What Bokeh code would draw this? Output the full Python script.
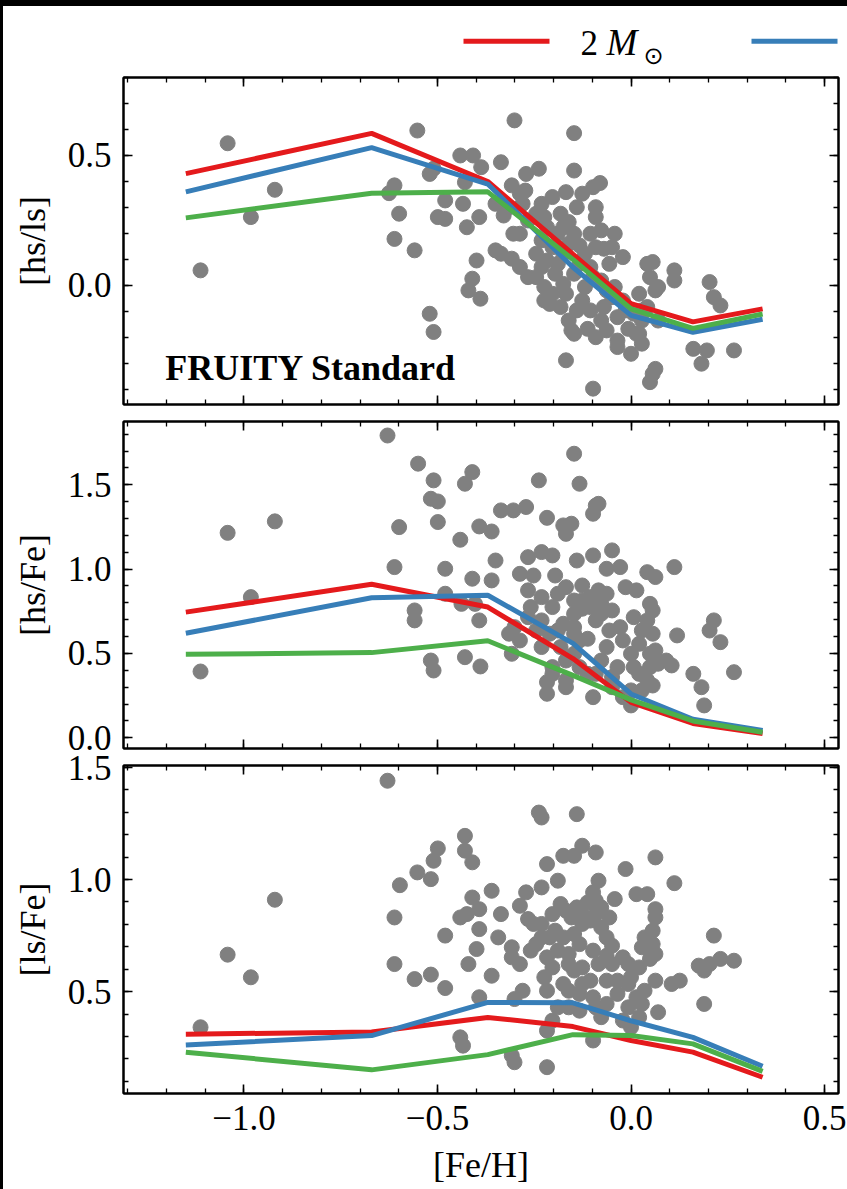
from bokeh.plotting import figure
from bokeh.layouts import column
from bokeh.models import Range1d, LinearAxis, SingleIntervalTicker, CustomJSTickFormatter, Label
from bokeh.core.properties import value
from bokeh.embed import file_html
from bokeh.resources import INLINE

# ---------------- data ----------------
feh_model = [-1.15, -0.67, -0.37, -0.15, 0.0, 0.16, 0.34]

hsls_2m = [0.43, 0.585, 0.40, 0.12, -0.07, -0.14, -0.09]
hsls_3m = [0.36, 0.53, 0.39, 0.07, -0.115, -0.18, -0.13]
hsls_4m = [0.26, 0.355, 0.36, 0.10, -0.09, -0.165, -0.11]

hsfe_2m = [0.745, 0.91, 0.775, 0.47, 0.21, 0.085, 0.025]
hsfe_3m = [0.62, 0.83, 0.845, 0.56, 0.26, 0.11, 0.043]
hsfe_4m = [0.495, 0.505, 0.575, 0.37, 0.225, 0.10, 0.033]

lsfe_2m = [0.31, 0.32, 0.385, 0.344, 0.282, 0.23, 0.118]
lsfe_3m = [0.262, 0.304, 0.452, 0.45, 0.37, 0.296, 0.167]
lsfe_4m = [0.23, 0.151, 0.219, 0.308, 0.304, 0.267, 0.144]

# observed stars, [hs/ls] panel
obs_feh_hsls = [
    -1.042, -1.112, -0.982, -0.920, -0.552, -0.611, -0.625, -0.599, -0.611, -0.559,
    -0.520, -0.510, -0.499, -0.480, -0.480, -0.520, -0.510, -0.441, -0.408, -0.387,
    -0.429, -0.434, -0.424, -0.392, -0.399, -0.410, -0.420, -0.389, -0.301, -0.336,
    -0.308, -0.271, -0.238, -0.273, -0.350, -0.329, -0.304, -0.336, -0.308, -0.287,
    -0.266, -0.224, -0.231, -0.245, -0.224, -0.210, -0.203, -0.168, -0.147, -0.147,
    -0.126, -0.098, -0.080, -0.161, -0.091, -0.189, -0.147, -0.175, -0.133, -0.091,
    -0.070, -0.042, -0.196, -0.175, -0.133, -0.105, -0.168, -0.119, -0.077, -0.161,
    -0.154, -0.112, -0.077, -0.070, -0.035, -0.035, 0.000, -0.168, -0.098, 0.056,
    0.049, 0.028, 0.042, 0.056, 0.049, 0.063, 0.021, 0.042, 0.070, 0.112,
    0.112, 0.203, 0.214, 0.231, 0.161, 0.196, 0.182, 0.266, 0.021, -0.007,
    -0.049, -0.021, -0.042, -0.245, -0.280, -0.217, -0.056, -0.203, -0.140, -0.105,
    -0.014, -0.147, -0.245, -0.350, -0.287, -0.231, -0.091, 0.007, 0.014, 0.063,
    -0.266, -0.217, -0.182, -0.140, -0.105, -0.077, -0.203, -0.161, -0.231, -0.189,
    -0.147, -0.098, -0.063, -0.224, -0.182, -0.126, -0.063, -0.091, -0.035, 0.028,
    0.070, 0.028, -0.315, -0.287, -0.175, -0.119, -0.021, -0.049]
obs_hsls = [
    0.547, 0.058, 0.263, 0.368, 0.596, 0.385, 0.355, 0.276, 0.179, 0.135,
    0.429, 0.449, 0.263, 0.256, 0.327, -0.109, -0.179, 0.500, 0.500, 0.455,
    0.397, 0.314, 0.224, 0.263, 0.096, 0.026, -0.019, -0.051, 0.635, 0.474,
    0.385, 0.429, 0.449, 0.365, 0.314, 0.269, 0.199, 0.122, 0.103, 0.071,
    0.032, 0.263, 0.173, 0.122, -0.006, -0.071, 0.340, 0.359, 0.586, 0.442,
    0.353, 0.378, 0.394, 0.244, 0.263, 0.199, 0.199, 0.122, 0.154, 0.147,
    0.141, 0.199, 0.045, 0.006, 0.083, 0.071, -0.032, -0.006, 0.019, -0.135,
    -0.173, -0.167, -0.135, -0.083, -0.212, -0.237, -0.263, -0.288, -0.397, -0.340,
    -0.372, -0.135, 0.083, 0.090, 0.032, -0.019, -0.032, -0.083, -0.006, 0.058,
    0.019, 0.013, -0.045, -0.077, -0.244, -0.250, -0.301, -0.250, -0.186, -0.167,
    -0.045, -0.058, -0.006, 0.276, 0.314, 0.096, 0.083, -0.032, -0.096, -0.096,
    -0.096, -0.186, 0.032, 0.135, 0.199, 0.314, 0.301, -0.109, -0.186, -0.321,
    0.250, 0.224, 0.276, 0.301, 0.199, 0.212, 0.147, 0.160, 0.071, 0.083,
    0.045, 0.032, -0.019, -0.058, -0.083, -0.058, -0.173, -0.199, -0.122, -0.096,
    -0.135, -0.224, 0.301, 0.353, 0.224, 0.122, 0.109, 0.147]

# observed stars, [hs/Fe] panel
obs_feh_hsfe = [
    -0.629, -0.550, -0.510, -0.410, -0.429, -0.517, -0.499, -0.499, -0.599, -1.042,
    -0.920, -0.982, -1.112, -0.611, -0.480, -0.441, -0.392, -0.360, -0.350, -0.336,
    -0.304, -0.271, -0.238, -0.217, -0.175, -0.154, -0.168, -0.147, -0.133, -0.091,
    -0.084, -0.098, -0.049, -0.231, -0.266, -0.203, -0.140, -0.098, -0.063, -0.028,
    0.112, 0.042, 0.063, 0.014, -0.287, -0.252, -0.410, -0.360, -0.266, -0.196,
    -0.168, -0.126, -0.084, -0.105, -0.231, -0.203, -0.259, -0.049, -0.126, -0.091,
    0.049, 0.056, -0.559, -0.559, -0.480, -0.438, -0.392, -0.403, -0.301, -0.245,
    -0.175, -0.147, -0.112, -0.028, 0.028, 0.056, 0.119, 0.214, 0.203, 0.231,
    0.266, 0.161, 0.182, 0.189, 0.105, 0.070, 0.000, 0.021, 0.042, 0.056,
    0.000, -0.035, -0.077, -0.063, -0.147, -0.203, -0.217, -0.168, -0.098, -0.021,
    0.000, -0.517, -0.510, -0.429, -0.389, -0.308, -0.315, -0.231, -0.210, -0.147,
    -0.077, 0.007, 0.042, -0.126, -0.014, -0.203, -0.049, -0.168, -0.112,
    -0.189, -0.147, -0.105, -0.077, -0.231, -0.189, -0.147, -0.056, -0.021, 0.021,
    0.049, 0.091, 0.007, 0.049, -0.049, -0.091, -0.133, -0.168, -0.182, -0.133,
    -0.287, -0.266, -0.063, 0.063, 0.028, -0.217]
obs_hsfe = [
    1.792, 1.625, 1.526, 1.575, 1.506, 1.417, 1.401, 1.279, 1.249, 1.215,
    1.283, 0.834, 0.393, 1.012, 1.002, 1.174, 1.253, 1.223, 1.051, 1.348,
    1.348, 1.368, 1.526, 1.304, 1.259, 1.269, 1.209, 1.684, 1.506, 1.377,
    1.387, 1.328, 1.111, 1.101, 1.071, 1.081, 1.051, 1.081, 1.002, 1.012,
    1.012, 0.982, 0.953, 0.874, 0.972, 0.962, 0.943, 0.933, 0.874, 0.962,
    0.893, 0.903, 0.874, 0.834, 0.834, 0.775, 0.775, 0.755, 0.765, 0.696,
    0.794, 0.755, 0.755, 0.696, 0.854, 0.794, 0.696, 0.794, 0.656, 0.636,
    0.676, 0.617, 0.587, 0.656, 0.636, 0.617, 0.607, 0.696, 0.636, 0.567,
    0.389, 0.379, 0.300, 0.192, 0.429, 0.439, 0.498, 0.379, 0.340, 0.310,
    0.281, 0.419, 0.458, 0.538, 0.498, 0.419, 0.330, 0.300, 0.241, 0.241,
    0.192, 0.458, 0.399, 0.478, 0.423, 0.498, 0.617, 0.538, 0.617, 0.735,
    0.735, 0.715, 0.696, 0.814, 0.893, 0.379, 0.360, 0.340, 0.379,
    0.854, 0.814, 0.775, 0.794, 0.696, 0.636, 0.656, 0.636, 0.577, 0.557,
    0.498, 0.458, 0.419, 0.419, 0.300, 0.379, 0.419, 0.458, 0.538, 0.577,
    0.577, 0.715, 0.854, 0.518, 0.281, 0.261]

# observed stars, [ls/Fe] panel
obs_feh_lsfe = [
    -0.629, -1.042, -0.982, -0.920, -1.112, -0.597, -0.611, -0.611, -0.552, -0.517,
    -0.510, -0.499, -0.429, -0.429, -0.410, -0.559, -0.517, -0.480, -0.480, -0.441,
    -0.424, -0.410, -0.392, -0.392, -0.399, -0.420, -0.360, -0.392, -0.360, -0.336,
    -0.343, -0.308, -0.308, -0.287, -0.271, -0.266, -0.252, -0.238, -0.231, -0.231,
    -0.217, -0.189, -0.175, -0.140, -0.147, -0.126, -0.091, -0.084, -0.098, -0.042,
    -0.014, 0.014, 0.042, 0.063, 0.112, 0.063, 0.063, 0.056, 0.049, 0.063,
    0.028, 0.063, 0.105, 0.126, 0.214, 0.203, 0.231, 0.266, 0.175, 0.189,
    0.189, 0.070, 0.028, 0.035, 0.000, -0.007, -0.035, -0.035, -0.021, 0.000,
    0.021, -0.077, -0.098, -0.105, -0.133, -0.133, -0.147, -0.161, -0.175, -0.203,
    -0.168, -0.140, -0.112, -0.091, -0.077, -0.063, -0.126, -0.147, -0.196, -0.231,
    -0.217, -0.245, -0.203, -0.175, -0.217, -0.280, -0.301, -0.189, -0.161, -0.203,
    -0.217, -0.098, -0.308, -0.301, -0.217, -0.441, -0.434, -0.049, -0.063, -0.021,
    0.049, -0.091, -0.126, -0.049,
    -0.182, -0.154, -0.105, -0.077, -0.056, -0.231, -0.210, -0.133, -0.098, -0.084,
    -0.126, -0.161, -0.189, -0.259, -0.287, -0.063, -0.007, 0.021, 0.014, -0.007,
    -0.063, -0.091, -0.161, -0.126, -0.224, 0.035, 0.056]
obs_lsfe = [
    1.441, 0.665, 0.564, 0.910, 0.341, 0.975, 0.831, 0.623, 1.032, 1.002,
    1.084, 1.139, 1.195, 1.129, 1.077, 0.556, 0.576, 0.516, 0.750, 0.831,
    0.846, 0.920, 0.868, 0.779, 0.690, 0.623, 0.571, 0.475, 0.950, 0.846,
    0.742, 0.698, 0.653, 0.883, 0.943, 0.824, 0.802, 1.299, 1.277, 0.965,
    1.069, 0.995, 1.106, 1.292, 1.106, 1.151, 1.121, 0.995, 0.943, 0.913,
    1.047, 0.935, 0.935, 1.099, 0.984, 0.868, 0.831, 0.772, 0.712, 0.668,
    0.698, 0.549, 0.534, 0.549, 0.750, 0.623, 0.646, 0.638, 0.616, 0.594,
    0.445, 0.408, 0.445, 0.504, 0.564, 0.623, 0.549, 0.490, 0.371, 0.341,
    0.386, 0.386, 0.475, 0.549, 0.415, 0.490, 0.594, 0.668, 0.742, 0.846,
    0.861, 0.876, 0.898, 0.846, 0.787, 0.742, 0.802, 0.757, 0.772, 0.742,
    0.653, 0.712, 0.608, 0.534, 0.504, 0.504, 0.467, 0.430, 0.430, 0.371,
    0.326, 0.282, 0.215, 0.185, 0.163, 0.296, 0.259, 0.705, 0.660, 0.653,
    0.646, 0.906, 0.846, 0.623,
    0.891, 0.831, 0.817, 0.876, 0.831, 0.802, 0.742, 0.712, 0.683, 0.623,
    0.608, 0.623, 0.683, 0.683, 0.623, 0.549, 0.534, 0.608, 0.475, 0.430,
    0.445, 0.430, 0.504, 0.534, 0.564, 0.742, 0.712]

# ---------------- style ----------------
SERIF = "Liberation Serif"
RED = "#e41a1c"
BLUE = "#377eb8"
GREEN = "#4daf4a"
GREY = "#808080"
X_RANGE = (-1.311, 0.536)

minus_fmt = "return tick.toFixed(1).replace('-', '\\u2212');"
empty_fmt = "return '';"


def make_axis(show_labels):
    ax = LinearAxis()
    ax.ticker = SingleIntervalTicker(interval=0.5, num_minor_ticks=5)
    ax.major_tick_in = 9
    ax.major_tick_out = 0
    ax.minor_tick_in = 5
    ax.minor_tick_out = 0
    ax.axis_line_width = 2
    ax.axis_line_color = "black"
    ax.major_tick_line_width = 1.6
    ax.minor_tick_line_width = 1.3
    ax.major_tick_line_color = "black"
    ax.minor_tick_line_color = "black"
    if show_labels:
        ax.formatter = CustomJSTickFormatter(code=minus_fmt)
        ax.major_label_text_font = SERIF
        ax.major_label_text_font_size = "35px"
        ax.major_label_text_color = "black"
        ax.major_label_standoff = 12
    else:
        ax.formatter = CustomJSTickFormatter(code=empty_fmt)
        ax.major_label_text_font_size = "1px"
        ax.major_label_standoff = 0
    return ax


def make_panel(yrange, ylabel, obs_x, obs_y, m2, m3, m4, frame_h, b_top, b_bot, show_x):
    p = figure(frame_width=715, frame_height=frame_h,
               x_range=Range1d(*X_RANGE), y_range=Range1d(*yrange),
               x_axis_type=None, y_axis_type=None,
               output_backend="svg", toolbar_location=None,
               min_border_left=120, min_border_right=9,
               min_border_top=b_top, min_border_bottom=b_bot,
               margin=(0, 0, 0, 3))
    p.grid.visible = False
    p.outline_line_color = "black"
    p.outline_line_width = 2
    p.background_fill_color = "white"
    p.border_fill_color = "white"

    xb = make_axis(show_x)
    xt = make_axis(False)
    yl = make_axis(True)
    yr = make_axis(False)
    yl.axis_label = ylabel
    yl.axis_label_text_font = SERIF
    yl.axis_label_text_font_size = "36px"
    yl.axis_label_text_font_style = "normal"
    yl.axis_label_text_color = "black"
    yl.axis_label_standoff = 12
    if show_x:
        xb.axis_label = "[Fe/H]"
        xb.axis_label_text_font = SERIF
        xb.axis_label_text_font_size = "36px"
        xb.axis_label_text_font_style = "normal"
        xb.axis_label_text_color = "black"
        xb.axis_label_standoff = 12
    p.add_layout(xb, "below")
    p.add_layout(xt, "above")
    p.add_layout(yl, "left")
    p.add_layout(yr, "right")

    p.scatter(obs_x, obs_y, size=15, color=GREY, line_color=GREY)
    p.line(feh_model, m2, line_width=5, color=RED)
    p.line(feh_model, m3, line_width=5, color=BLUE)
    p.line(feh_model, m4, line_width=5, color=GREEN)
    return p


p1 = make_panel((-0.458, 0.800), "[hs/ls]", obs_feh_hsls, obs_hsls,
                hsls_2m, hsls_3m, hsls_4m, 327, 7, 8, False)
p1.add_layout(Label(x=-1.203, y=-0.318, text="FRUITY Standard",
                    text_font=SERIF, text_font_style="bold",
                    text_font_size="36px", text_baseline="middle",
                    text_color="black"))

p2 = make_panel((-0.0634, 1.875), "[hs/Fe]", obs_feh_hsfe, obs_hsfe,
                hsfe_2m, hsfe_3m, hsfe_4m, 327, 9, 4, False)

p3 = make_panel((0.0455, 1.509), "[ls/Fe]", obs_feh_lsfe, obs_lsfe,
                lsfe_2m, lsfe_3m, lsfe_4m, 328, 13, 96, True)

# ---------------- legend header (page pixel coordinates) ----------------
hdr = figure(frame_width=715, frame_height=64,
             x_range=Range1d(123, 838), y_range=Range1d(70, 6),
             x_axis_type=None, y_axis_type=None,
             output_backend="svg", toolbar_location=None,
             min_border_left=120, min_border_right=9,
             min_border_top=0, min_border_bottom=0,
             margin=(6, 0, 0, 3))
hdr.grid.visible = False
hdr.outline_line_color = None
hdr.segment(x0=[463], y0=[40.7], x1=[549], y1=[40.7], line_width=5, color=RED)
hdr.segment(x0=[751], y0=[40.7], x1=[837], y1=[40.7], line_width=5, color=BLUE)
hdr.text(x=[580], y=[42], text=["2"], text_font=value(SERIF), text_font_size="35px",
         text_baseline="middle", text_color="black")
hdr.text(x=[606], y=[42], text=["M"], text_font=value(SERIF), text_font_size="37px",
         text_font_style="italic", text_baseline="middle", text_color="black")
hdr.text(x=[643], y=[55], text=["\u2299"], text_font=value("DejaVu Sans"), text_font_size="24px",
         text_baseline="middle", text_color="black")

bg = ("linear-gradient(black, black) top left / 100% 6px no-repeat, "
      "linear-gradient(black, black) top left / 3px 100% no-repeat, white")
layout = column(hdr, p1, p2, p3, spacing=0, styles={"background": bg})

open("out.html", "w").write(file_html(layout, INLINE))
